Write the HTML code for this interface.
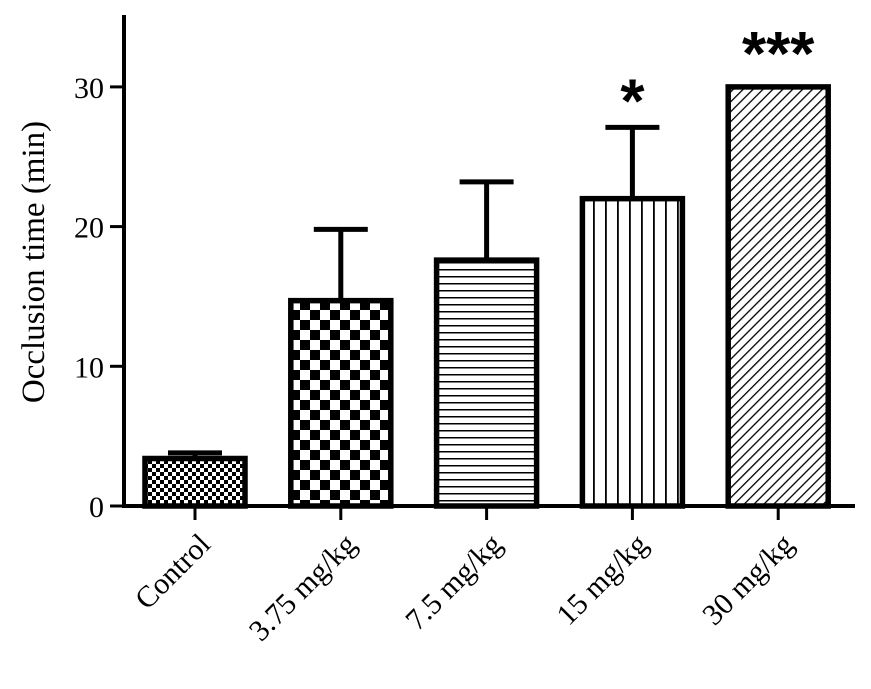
<!DOCTYPE html>
<html><head><meta charset="utf-8"><style>body{margin:0;background:#fff}svg{display:block}</style></head>
<body>
<svg id="chart" width="871" height="689" xmlns="http://www.w3.org/2000/svg">
<defs>
<pattern id="p0" width="8" height="8" patternUnits="userSpaceOnUse"><rect width="8" height="8" fill="#fff"/><rect width="4" height="4" fill="#000"/><rect x="4" y="4" width="4" height="4" fill="#000"/></pattern>
<pattern id="p1" width="20" height="20" patternUnits="userSpaceOnUse"><rect width="20" height="20" fill="#fff"/><rect width="10" height="10" fill="#000"/><rect x="10" y="10" width="10" height="10" fill="#000"/></pattern>
<pattern id="p2" width="8" height="7" patternUnits="userSpaceOnUse"><rect width="8" height="7" fill="#fff"/><rect y="3" width="8" height="1.5" fill="#000"/></pattern>
<pattern id="p3" width="12" height="8" patternUnits="userSpaceOnUse"><rect width="12" height="8" fill="#fff"/><rect x="5" width="1.8" height="8" fill="#000"/></pattern>
<pattern id="p4" width="7" height="7" patternUnits="userSpaceOnUse" patternTransform="rotate(45)"><rect width="7" height="7" fill="#fff"/><rect width="1.3" height="7" fill="#000"/></pattern>
</defs>
<g id="plot"></g>
<text transform="translate(44,262) rotate(-90)" text-anchor="middle" font-family="Liberation Serif, serif" font-size="33">Occlusion time (min)</text>
</svg>
<script>
const categories = ["Control","3.75 mg/kg","7.5 mg/kg","15 mg/kg","30 mg/kg"];
const means = [3.4, 14.7, 17.6, 22.0, 30.0];
const sems = [0.4, 5.1, 5.6, 5.1, 0];
const sig = ["", "", "", "*", "***"];
const yTicks = [0, 10, 20, 30];
const NS="http://www.w3.org/2000/svg";
const g=document.getElementById('plot');
const y0=506, yScale=13.97;
const Y=v=>y0-v*yScale;
const X=i=>195+i*145.8;
const bw=100;
function el(t,a,p){const e=document.createElementNS(NS,t);for(const k in a)e.setAttribute(k,a[k]);(p||g).appendChild(e);return e;}
categories.forEach((c,i)=>{
  const cx=X(i), top=Y(means[i]);
  if(sems[i]>0){
    const ey=Y(means[i]+sems[i]);
    const l=el('line',{x1:cx,x2:cx,y1:top,y2:ey,stroke:'#000','stroke-width':5});
    
    
    const cap=el('line',{x1:cx-27,x2:cx+27,y1:ey,y2:ey,stroke:'#000','stroke-width':5});
    
    
  }
  const r=el('rect',{x:cx-bw/2,y:top,width:bw,height:y0-top,fill:'url(#p'+i+')',stroke:'#000','stroke-width':5.5});
  
  
  const tk=el('line',{x1:cx,x2:cx,y1:y0,y2:y0+14,stroke:'#000','stroke-width':3});
  
  
  const t=el('text',{transform:`translate(${cx+17},${y0+40}) rotate(-45)`,'text-anchor':'end','font-family':'Liberation Serif, serif','font-size':30});
  t.textContent=c;
  
  
  if(sig[i]){
    const ey=Y(means[i]+sems[i]);
    const s=el('text',{x:cx,y:ey-(sems[i]>0?5:12),'text-anchor':'middle','font-family':'Liberation Sans, sans-serif','font-size':62,'font-weight':'bold'});
    s.textContent=sig[i];
    
    
  }
});
yTicks.forEach(v=>{
  const tk=el('line',{x1:110,x2:124,y1:Y(v),y2:Y(v),stroke:'#000','stroke-width':3});
  
  
  const t=el('text',{x:104,y:Y(v)+11,'text-anchor':'end','font-family':'Liberation Serif, serif','font-size':30});
  t.textContent=v;
  
  
});
const ya=el('line',{x1:124,x2:124,y1:15,y2:y0+2,stroke:'#000','stroke-width':4});


const xa=el('line',{x1:122,x2:855,y1:y0,y2:y0,stroke:'#000','stroke-width':4});


</script>
</body></html>
